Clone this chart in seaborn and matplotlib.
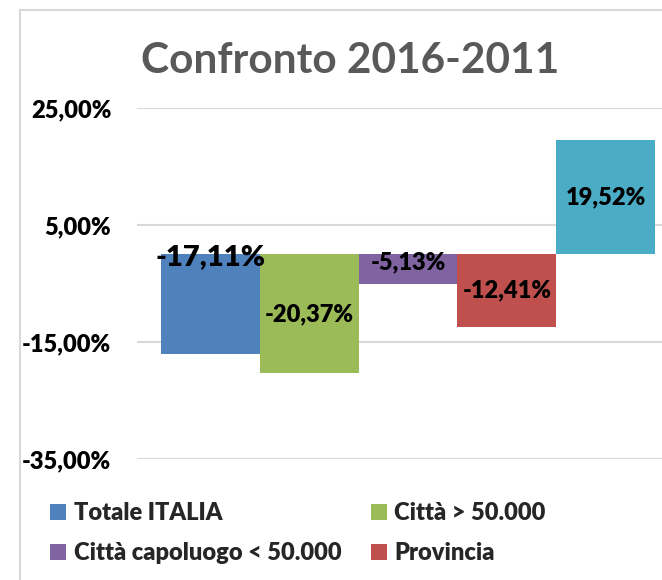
import numpy as np
import pandas as pd
import seaborn as sns
import matplotlib.pyplot as plt
from matplotlib.lines import Line2D
from matplotlib.patches import Rectangle

# data
categories = ['Totale ITALIA', 'Città > 50.000', 'Città capoluogo < 50.000', 'Provincia', 'Serie 5']
values = [-17.11, -20.37, -5.13, -12.41, 19.52]
colors = ['#4F81BD', '#9BBB59', '#8064A2', '#C0504D', '#4BACC6']
yticks = [-35, -15, 5, 25]
legend_order = [0, 2, 1, 3]

W, H = 662, 580
sns.set_theme(style='white')
plt.rcParams['font.family'] = ['Lato', 'DejaVu Sans']
plt.rcParams['font.weight'] = 'heavy'
fw = 'heavy'

fig = plt.figure(figsize=(W / 100, H / 100), dpi=100)

# chart border (cropped on right and bottom)
fig.patches.append(Rectangle((19.5 / W, -0.1), 1.2, 1.1 - 10.5 / H, transform=fig.transFigure,
                             fill=False, edgecolor='#D9D9D9', lw=1.5))

ax = fig.add_axes([137 / W, (H - 459) / H, (W - 137) / W, (459 - 108) / H])

df = pd.DataFrame({'cat': categories, 'val': values})
sns.barplot(data=df, x='cat', y='val', hue='cat', palette=colors, width=1.0,
            legend=False, ax=ax, saturation=1, linewidth=0, edgecolor='none')

ax.set_ylim(-35, 25)
ax.set_xlim(-0.743, 4.571)
ax.set_yticks(yticks)
ax.set_yticklabels([f'{t:.2f}%'.replace('.', ',') for t in yticks], fontsize=17,
                   fontweight=fw, color='black')
ax.tick_params(axis='y', length=0, pad=18.5)
ax.set_xticks([])
ax.set_xlabel('')
ax.set_ylabel('')
ax.grid(axis='y', color='#D9D9D9', lw=1.5)
ax.set_axisbelow(True)
for s in ax.spines.values():
    s.set_visible(False)

# data labels
for i, v in enumerate(values):
    txt = f'{v:.2f}%'.replace('.', ',')
    if i == 0:
        ax.text(i, -0.5, txt, ha='center', va='center', fontsize=21, fontweight=fw, color='black')
    elif i == 2:
        ax.text(i, v / 2 + 1.2, txt, ha='center', va='center', fontsize=17, fontweight=fw, color='black')
    else:
        ax.text(i, v / 2, txt, ha='center', va='center', fontsize=17, fontweight=fw, color='black')

fig.text(350 / W, 1 - 61 / H, 'Confronto 2016-2011', ha='center', va='center',
         fontsize=30.5, fontweight='bold', color='#595959')

handles = [Line2D([], [], marker='s', ls='', markersize=11.5, markeredgewidth=0, color=colors[i])
           for i in legend_order]
labels = [categories[i] for i in legend_order]
fig.legend(handles, labels, ncol=2, frameon=False, loc='upper left',
           bbox_to_anchor=(50 / W, 1 - 502 / H), prop={'size': 17, 'weight': fw},
           handlelength=0.7, handletextpad=0.3, columnspacing=1.25, labelspacing=0.78,
           borderaxespad=0, borderpad=0)

fig.savefig('out.png', dpi=100)
